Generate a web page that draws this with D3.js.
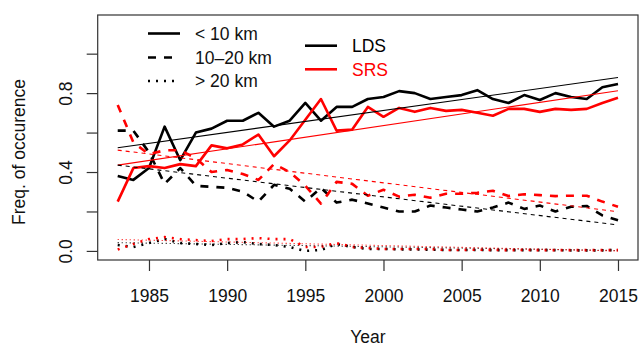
<!DOCTYPE html>
<html>
<head>
<meta charset="utf-8">
<script src="https://cdn.jsdelivr.net/npm/d3@7"></script>
<style>
  body { margin: 0; background: #fff; }
  svg { display: block; }
  text { font-family: "Liberation Sans", Arial, sans-serif; }
</style>
</head>
<body>
<svg width="640" height="349"></svg>
<script>
const years = [1983, 1984, 1985, 1986, 1987, 1988, 1989, 1990, 1991, 1992, 1993,
  1994, 1995, 1996, 1997, 1998, 1999, 2000, 2001, 2002, 2003, 2004,
  2005, 2006, 2007, 2008, 2009, 2010, 2011, 2012, 2013, 2014, 2015];

// < 10 km
const ldsNear = [0.38, 0.36, 0.42, 0.63, 0.46, 0.60, 0.62, 0.66, 0.66, 0.70, 0.63,
  0.66, 0.75, 0.66, 0.73, 0.73, 0.77, 0.78, 0.81, 0.80, 0.77, 0.78,
  0.79, 0.815, 0.77, 0.75, 0.79, 0.765, 0.80, 0.78, 0.77, 0.83, 0.846];
const srsNear = [0.25, 0.42, 0.43, 0.42, 0.44, 0.43, 0.535, 0.52, 0.54, 0.59, 0.48,
  0.56, 0.665, 0.77, 0.61, 0.615, 0.73, 0.68, 0.725, 0.705, 0.725, 0.71,
  0.715, 0.70, 0.685, 0.72, 0.72, 0.705, 0.72, 0.715, 0.72, 0.75, 0.776];
// 10-20 km
const ldsMid = [0.61, 0.61, 0.50, 0.34, 0.42, 0.33, 0.325, 0.32, 0.30, 0.25, 0.335,
  0.315, 0.25, 0.32, 0.245, 0.26, 0.24, 0.22, 0.20, 0.20, 0.23, 0.22,
  0.21, 0.20, 0.22, 0.245, 0.213, 0.23, 0.20, 0.224, 0.228, 0.18, 0.155];
const srsMid = [0.74, 0.55, 0.49, 0.51, 0.51, 0.47, 0.40, 0.41, 0.39, 0.36, 0.44,
  0.40, 0.33, 0.24, 0.35, 0.34, 0.28, 0.31, 0.275, 0.285, 0.27, 0.29,
  0.29, 0.295, 0.305, 0.278, 0.287, 0.283, 0.278, 0.28, 0.28, 0.25, 0.224];
// > 20 km
const ldsFar = [0.03, 0.02, 0.04, 0.06, 0.04, 0.035, 0.03, 0.04, 0.045, 0.035, 0.03,
  0.02, 0.0, 0.005, 0.035, 0.02, 0.01, 0.01, 0.008, 0.008, 0.006, 0.005,
  0.005, 0.005, 0.004, 0.004, 0.004, 0.004, 0.004, 0.003, 0.003, 0.003, 0.005];
const srsFar = [0.007, 0.035, 0.06, 0.07, 0.06, 0.055, 0.05, 0.06, 0.06, 0.065, 0.06,
  0.06, 0.02, 0.02, 0.04, 0.02, 0.015, 0.01, 0.01, 0.01, 0.01, 0.005,
  0.005, 0.006, 0.005, 0.004, 0.005, 0.004, 0.004, 0.004, 0.004, 0.004, 0.004];

// fitted trend lines, value at first and last year
const trendYears = [1983, 2015];
const ldsNearTrend = [0.523, 0.879];
const srsNearTrend = [0.435, 0.812];
const ldsMidTrend = [0.435, 0.132];
const srsMidTrend = [0.511, 0.199];
const ldsFarTrend = [0.042, 0.002];
const srsFarTrend = [0.058, 0.0];

const xTicks = [1985, 1990, 1995, 2000, 2005, 2010, 2015];
const yTicks = [0, 0.2, 0.4, 0.6, 0.8, 1.0];
const yLabelled = [0, 0.4, 0.8];

const svg = d3.select("svg");
const plotLeft = 97.7, plotRight = 638, plotTop = 15, plotBottom = 260;
const fontSize = 17.5;
const red = "#ff0000";

const x = d3.scaleLinear().domain([1981.72, 2016.28]).range([plotLeft, plotRight]);
const y = d3.scaleLinear().domain([-0.046, 1.196]).range([plotBottom, plotTop]);

const line = d3.line()
  .x(d => x(d.year))
  .y(d => y(d.v));

const toPoints = (xs, vs) => xs.map((yr, i) => ({ year: yr, v: vs[i] }));

const series = [
  { vals: ldsNear, color: "#000", dash: null },
  { vals: srsNear, color: red, dash: null },
  { vals: ldsMid, color: "#000", dash: "8,8" },
  { vals: srsMid, color: red, dash: "8,8" },
  { vals: ldsFar, color: "#000", dash: "2,6" },
  { vals: srsFar, color: red, dash: "2,6" }
];

const trends = [
  { vals: ldsNearTrend, color: "#000", dash: null },
  { vals: srsNearTrend, color: red, dash: null },
  { vals: ldsMidTrend, color: "#000", dash: "4,4" },
  { vals: srsMidTrend, color: red, dash: "4,4" },
  { vals: ldsFarTrend, color: "#000", dash: "1,3" },
  { vals: srsFarTrend, color: red, dash: "1,3" }
];

// thick yearly series
svg.append("g").selectAll("path").data(series).enter().append("path")
  .attr("d", s => line(toPoints(years, s.vals)))
  .attr("fill", "none")
  .attr("stroke", s => s.color)
  .attr("stroke-width", 2.6)
  .attr("stroke-dasharray", s => s.dash)
  .attr("stroke-linejoin", "round");

// thin trend lines
svg.append("g").selectAll("path").data(trends).enter().append("path")
  .attr("d", s => line(toPoints(trendYears, s.vals)))
  .attr("fill", "none")
  .attr("stroke", s => s.color)
  .attr("stroke-width", 1.1)
  .attr("stroke-dasharray", s => s.dash);

// box
svg.append("rect")
  .attr("x", plotLeft).attr("y", plotTop)
  .attr("width", plotRight - plotLeft).attr("height", plotBottom - plotTop)
  .attr("fill", "none")
  .attr("stroke", "#333")
  .attr("stroke-width", 1.2);

// x axis
const xAxisG = svg.append("g")
  .attr("transform", `translate(0,${plotBottom})`)
  .call(d3.axisBottom(x).tickValues(xTicks).tickSize(11).tickFormat(d3.format("d")));
xAxisG.select(".domain").remove();
xAxisG.selectAll(".tick line").attr("stroke", "#333").attr("stroke-width", 1.2);
xAxisG.selectAll(".tick text")
  .attr("y", 42).attr("dy", 0)
  .attr("font-size", fontSize)
  .attr("fill", "#111");

// y axis
const yAxisG = svg.append("g")
  .attr("transform", `translate(${plotLeft},0)`)
  .call(d3.axisLeft(y).tickValues(yTicks).tickSize(11)
    .tickFormat(d => yLabelled.includes(d) ? d3.format(".1f")(d) : ""));
yAxisG.select(".domain").remove();
yAxisG.selectAll(".tick line").attr("stroke", "#333").attr("stroke-width", 1.2);
yAxisG.selectAll(".tick text")
  .attr("transform", "rotate(-90)")
  .attr("x", 0).attr("y", -26).attr("dy", 0)
  .attr("text-anchor", "middle")
  .attr("font-size", fontSize)
  .attr("fill", "#111");

// axis titles
svg.append("text")
  .text("Year")
  .attr("x", (plotLeft + plotRight) / 2).attr("y", 343)
  .attr("text-anchor", "middle")
  .attr("font-size", fontSize)
  .attr("fill", "#111");

svg.append("text")
  .text("Freq. of occurence")
  .attr("transform", "translate(25,152) rotate(-90)")
  .attr("text-anchor", "middle")
  .attr("font-size", fontSize)
  .attr("fill", "#111");

// legend: distance classes
const distLegend = [
  { label: "< 10 km", dash: null },
  { label: "10\u201320 km", dash: "8,8" },
  { label: "> 20 km", dash: "2,6" }
];
const legendRows = [33.5, 57.5, 81];

const legendOne = svg.append("g");
distLegend.forEach((d, i) => {
  legendOne.append("line")
    .attr("x1", 148).attr("x2", 180)
    .attr("y1", legendRows[i]).attr("y2", legendRows[i])
    .attr("stroke", "#000").attr("stroke-width", 2.6)
    .attr("stroke-dasharray", d.dash);
  legendOne.append("text")
    .text(d.label)
    .attr("x", 195).attr("y", legendRows[i])
    .attr("dy", "0.36em")
    .attr("font-size", fontSize)
    .attr("fill", "#111");
});

// legend: data sets
const setLegend = [
  { label: "LDS", color: "#000" },
  { label: "SRS", color: red }
];
const setRows = [45.7, 69.3];

const legendTwo = svg.append("g");
setLegend.forEach((d, i) => {
  legendTwo.append("line")
    .attr("x1", 305).attr("x2", 337)
    .attr("y1", setRows[i]).attr("y2", setRows[i])
    .attr("stroke", d.color).attr("stroke-width", 2.6);
  legendTwo.append("text")
    .text(d.label)
    .attr("x", 352).attr("y", setRows[i])
    .attr("dy", "0.36em")
    .attr("font-size", fontSize)
    .attr("fill", d.color);
});
</script>
</body>
</html>
